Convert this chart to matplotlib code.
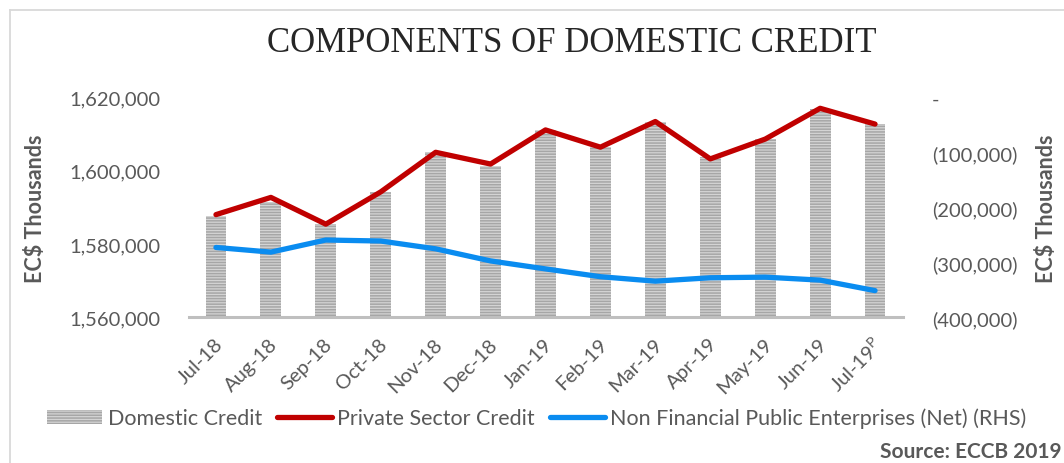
import matplotlib
matplotlib.use("Agg")
import matplotlib.pyplot as plt
from matplotlib.patches import Patch
from matplotlib.lines import Line2D
from matplotlib.ticker import FuncFormatter, FixedLocator
from matplotlib.transforms import ScaledTranslation
import numpy as np

months = ["Jul-18", "Aug-18", "Sep-18", "Oct-18", "Nov-18", "Dec-18", "Jan-19",
          "Feb-19", "Mar-19", "Apr-19", "May-19", "Jun-19", "Jul-19$^{\\mathregular{P}}$"]
domestic_credit = [1587700, 1591400, 1585400, 1594100, 1605000, 1601300, 1611000,
                   1606400, 1613200, 1603600, 1608600, 1616800, 1612700]
private_sector_credit = [1588000, 1592700, 1585400, 1594200, 1605000, 1601800, 1611100,
                         1606400, 1613400, 1603200, 1608600, 1617000, 1612700]
nfpe_net = [-273000, -281500, -259500, -261300, -275500, -297500, -312000,
            -326200, -334300, -328100, -327000, -332400, -351500]
left_ticks = [1560000, 1580000, 1600000, 1620000]
right_ticks = [-400000, -300000, -200000, -100000, 0]

plt.rcParams['font.family'] = ['Lato', 'DejaVu Sans']
plt.rcParams['hatch.linewidth'] = 1.1

W, H = 1064, 464
fig = plt.figure(figsize=(W / 100, H / 100), dpi=100)

def px(x0, y0, x1, y1):
    return [x0 / W, 1 - y1 / H, (x1 - x0) / W, (y1 - y0) / H]

ax = fig.add_axes(px(188.5, 98.3, 902.5, 318.3))
ax2 = ax.twinx()
ax.set_zorder(1)
ax2.set_zorder(2)
ax.patch.set_visible(False)
ax2.patch.set_visible(False)

x = np.arange(len(months))
grey_text = '#595959'
bar_face = '#d4d4d4'
bar_hatch = '#a6a6a6'

ax.bar(x, domestic_credit, width=0.38, color=bar_face, edgecolor=bar_hatch,
       linewidth=0, hatch='------')
ax.plot(x, private_sector_credit, color='#c00000', lw=3.8, solid_capstyle='round',
        solid_joinstyle='round', zorder=3)
ax2.plot(x, nfpe_net, color='#0a8cf0', lw=3.8, solid_capstyle='round',
         solid_joinstyle='round')

ax.set_xlim(-0.5, len(months) - 0.5)
ax.set_ylim(1560000, 1620000)
ax2.set_ylim(-400000, 0)

ax.yaxis.set_major_locator(FixedLocator(left_ticks))
ax2.yaxis.set_major_locator(FixedLocator(right_ticks))
ax.yaxis.set_major_formatter(FuncFormatter(lambda v, p: f"{v:,.0f}"))

def rfmt(v, p):
    if v == 0:
        return "-"
    if v < 0:
        return f"({-v:,.0f})"
    return f"{v:,.0f}"
ax2.yaxis.set_major_formatter(FuncFormatter(rfmt))

for a in (ax, ax2):
    for s in a.spines.values():
        s.set_visible(False)
ax.spines['bottom'].set_visible(True)
ax.spines['bottom'].set_color('#bfbfbf')
ax.spines['bottom'].set_linewidth(2.2)

ax.tick_params(axis='y', length=0, pad=20.5, labelsize=14.5, labelcolor=grey_text)
ax2.tick_params(axis='y', length=0, pad=21, labelsize=14.5, labelcolor=grey_text)
ax.tick_params(axis='x', length=0, pad=17, labelsize=14.5, labelcolor=grey_text)

ax.set_xticks(x)
ax.set_xticklabels(months, rotation=45, ha='right', va='center', rotation_mode='anchor')
offset = ScaledTranslation(4 / 100, 0, fig.dpi_scale_trans)
for lbl in ax.get_xticklabels():
    lbl.set_transform(lbl.get_transform() + offset)

ax.set_ylabel("EC$ Thousands", fontsize=15.5, fontweight='bold', color=grey_text)
ax.yaxis.label.set_va('center')
ax.yaxis.set_label_coords(-0.2136, 0.5)
ax2.set_ylabel("EC$ Thousands", fontsize=15.5, fontweight='bold', color=grey_text,
               rotation=90)
ax2.yaxis.label.set_va('center')
ax2.yaxis.set_label_coords(1.2017, 0.5)

fig.text(572 / W, 1 - 43 / H, "COMPONENTS OF DOMESTIC CREDIT",
         family=['Liberation Serif', 'DejaVu Serif'], fontsize=25, color='#262626',
         ha='center', va='center')

handles = [
    Patch(facecolor=bar_face, edgecolor=bar_hatch, linewidth=0, hatch='------'),
    Line2D([], [], color='#c00000', lw=3.8, solid_capstyle='round'),
    Line2D([], [], color='#0a8cf0', lw=3.8, solid_capstyle='round'),
]
labels = ["Domestic Credit", "Private Sector Credit",
          "Non Financial Public Enterprises (Net) (RHS)"]
leg = fig.legend(handles, labels, loc='center', bbox_to_anchor=(537 / W, 1 - 419 / H),
                 ncol=3, frameon=False, fontsize=15.5, handlelength=2.55,
                 handleheight=0.65, handletextpad=0.25, columnspacing=0.7,
                 borderaxespad=0, borderpad=0)
for t in leg.get_texts():
    t.set_color(grey_text)

fig.text(1062 / W, 1 - 452 / H, "Source: ECCB 2019", fontsize=15, fontweight='bold',
         color=grey_text, ha='right', va='center')

# chart area border (left and top edges visible)
fig.add_artist(Line2D([10 / W, 10 / W], [0, 1 - 11 / H], transform=fig.transFigure,
                      color='#d9d9d9', lw=1.3))
fig.add_artist(Line2D([10 / W, 1], [1 - 11 / H, 1 - 11 / H], transform=fig.transFigure,
                      color='#d9d9d9', lw=1.3))

fig.savefig("out.png", dpi=100)
